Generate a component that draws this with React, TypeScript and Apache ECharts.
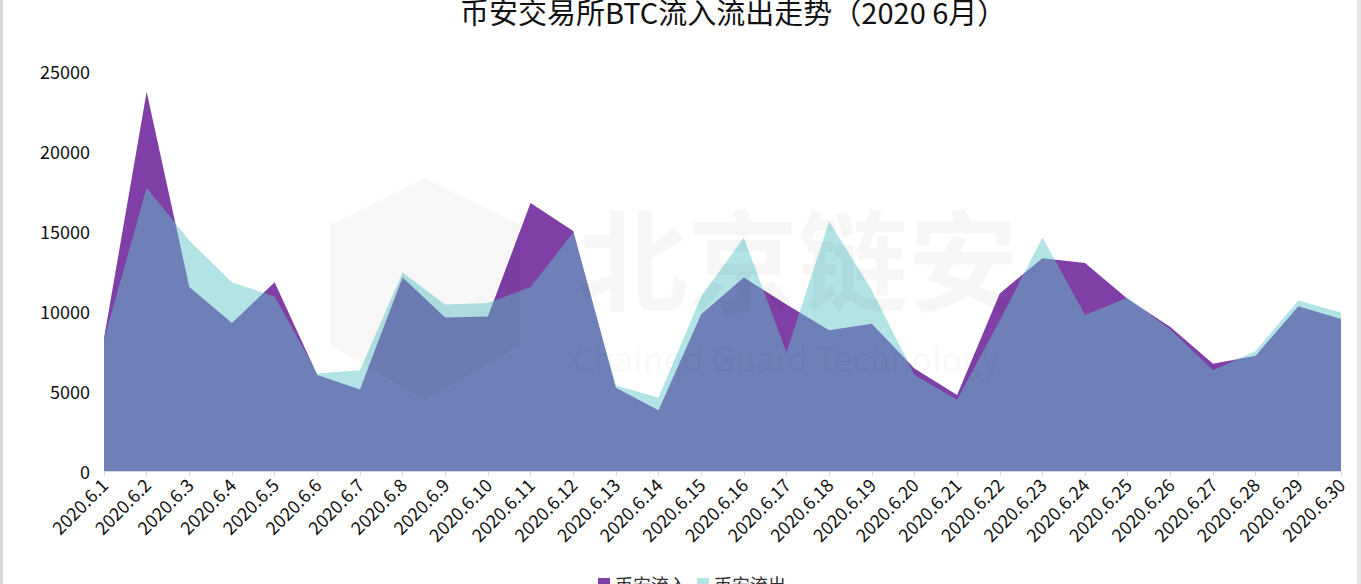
import React, { useEffect, useRef } from "react";
import * as echarts from "echarts";

const categories = [
  "2020.6.1", "2020.6.2", "2020.6.3", "2020.6.4", "2020.6.5", "2020.6.6", "2020.6.7", "2020.6.8",
  "2020.6.9", "2020.6.10", "2020.6.11", "2020.6.12", "2020.6.13", "2020.6.14", "2020.6.15",
  "2020.6.16", "2020.6.17", "2020.6.18", "2020.6.19", "2020.6.20", "2020.6.21", "2020.6.22",
  "2020.6.23", "2020.6.24", "2020.6.25", "2020.6.26", "2020.6.27", "2020.6.28", "2020.6.29", "2020.6.30",
];

const inflow = [
  8300, 23700, 11500, 9250, 11800, 6000, 5100, 12100, 9600, 9650, 16750, 15000, 5200, 3800, 9800,
  12100, 10400, 8800, 9200, 6400, 4750, 11100, 13300, 13000, 10750, 9000, 6700, 7200, 10300, 9500,
];

const outflow = [
  8200, 17700, 14400, 11800, 10900, 6100, 6300, 12400, 10400, 10500, 11500, 14900, 5350, 4600, 10900,
  14600, 7400, 15600, 11300, 6000, 4450, 9400, 14600, 9750, 10850, 8850, 6300, 7500, 10650, 9900,
];

const seriesNames = ["币安流入", "币安流出"];
const titleText = "币安交易所BTC流入流出走势（2020 6月）";

const FONT = '"Noto Sans CJK SC", "Noto Sans", sans-serif';

export default function App() {
  const ref = useRef<HTMLDivElement>(null);
  useEffect(() => {
    if (!ref.current) return;
    const chart = echarts.init(ref.current, undefined, { renderer: "svg" });
    chart.setOption({
      animation: false,
      backgroundColor: "#ffffff",
      textStyle: { fontFamily: FONT },
      title: {
        text: titleText,
        left: 455,
        top: -9,
        textStyle: { fontSize: 29, fontWeight: "normal", color: "#111", fontFamily: FONT },
      },
      legend: {
        data: seriesNames,
        bottom: -14,
        left: 593,
        itemWidth: 12,
        itemHeight: 12,
        itemGap: 10,
        icon: "rect",
        textStyle: { fontSize: 18, color: "#333", fontFamily: FONT },
      },
      grid: { left: 104, right: 20, top: 71, bottom: 113, containLabel: false },
      xAxis: {
        type: "category",
        data: categories,
        boundaryGap: false,
        axisLine: { lineStyle: { color: "#d9d9d9", width: 1 } },
        axisTick: { show: true, alignWithLabel: true, length: 5, lineStyle: { color: "#d9d9d9" } },
        axisLabel: {
          rotate: 45,
          interval: 0,
          fontSize: 18,
          color: "#111",
          margin: 10,
          fontFamily: FONT,
        },
      },
      yAxis: {
        type: "value",
        min: 0,
        max: 25000,
        interval: 5000,
        axisLine: { show: false },
        axisTick: { show: false },
        splitLine: { show: false },
        axisLabel: {
          fontSize: 18,
          color: "#111",
          margin: 14,
          fontFamily: FONT,
          formatter: (v: number) => String(v),
        },
      },
      series: [
        {
          name: seriesNames[0],
          type: "line",
          data: inflow,
          symbol: "none",
          itemStyle: { color: "#7f3fa6" },
          lineStyle: { width: 0 },
          areaStyle: { color: "#7f3fa6", opacity: 1 },
          z: 2,
        },
        {
          name: seriesNames[1],
          type: "line",
          data: outflow,
          symbol: "none",
          itemStyle: { color: "#b4e4e6" },
          lineStyle: { width: 0 },
          areaStyle: { color: "rgb(95,199,203)", opacity: 0.48 },
          z: 3,
        },
      ],
      graphic: [
        { type: "rect", shape: { x: 0, y: 0, width: 3, height: 584 }, style: { fill: "#d6d6d6" }, z: 10 },
        { type: "rect", shape: { x: 1357, y: 0, width: 4, height: 584 }, style: { fill: "#e4e4e4" }, z: 10 },
        {
          type: "polygon",
          shape: { points: [[425, 178], [520, 225], [520, 345], [425, 400], [330, 345], [330, 225]] },
          style: { fill: "rgba(0,0,0,0.03)" },
          z: 20,
          silent: true,
        },
        {
          type: "text",
          x: 578,
          y: 200,
          style: { text: "北京链安", font: `bold 110px ${FONT}`, fill: "rgba(0,0,0,0.035)" },
          z: 20,
          silent: true,
        },
        {
          type: "text",
          x: 572,
          y: 340,
          style: { text: "Chained Guard Technology", font: `34px ${FONT}`, fill: "rgba(0,0,0,0.035)" },
          z: 20,
          silent: true,
        },
      ],
    });
    return () => chart.dispose();
  }, []);
  return (
    <div
      ref={ref}
      style={{ position: "absolute", left: 0, top: 0, width: 1361, height: 584 }}
    />
  );
}
